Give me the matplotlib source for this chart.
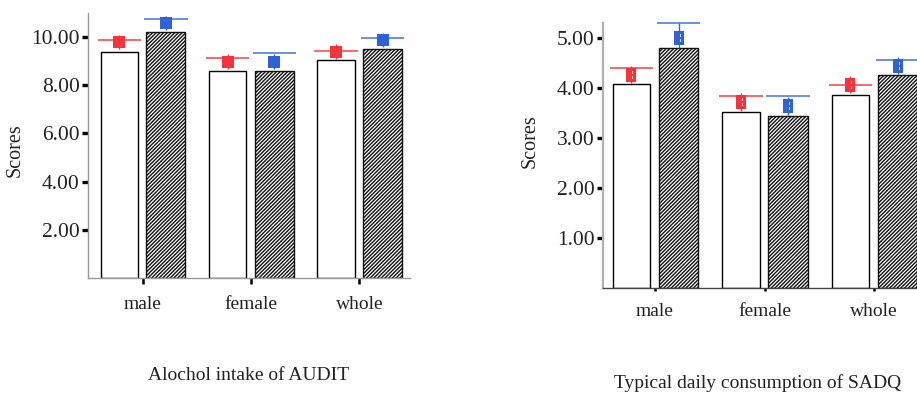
import numpy as np
import matplotlib
matplotlib.use("Agg")
import matplotlib.pyplot as plt
from matplotlib.path import Path

plt.rcParams['font.family'] = ['Liberation Serif', 'DejaVu Serif']
plt.rcParams['hatch.linewidth'] = 1.0

# ---------------- data ----------------
categories = ['male', 'female', 'whole']

audit_white = [9.40, 8.58, 9.04]
audit_hatch = [10.21, 8.58, 9.50]
audit_red = [9.79, 8.98, 9.40]
audit_blue = [10.58, 8.98, 9.87]
audit_red_line = [9.86, 9.15, 9.43]
audit_blue_line = [10.75, 9.33, 9.96]
audit_red_err = [0.3, 0.3, 0.3]
audit_blue_err = [0.3, 0.3, 0.3]
audit_ticks = [2, 4, 6, 8, 10]

sadq_white = [4.07, 3.51, 3.85]
sadq_hatch = [4.79, 3.43, 4.25]
sadq_red = [4.26, 3.71, 4.06]
sadq_blue = [4.99, 3.63, 4.44]
sadq_red_line = [4.39, 3.84, 4.06]
sadq_blue_line = [5.29, 3.84, 4.56]
sadq_red_err_lo = [0.17, 0.18, 0.17]
sadq_red_err_hi = [0.17, 0.18, 0.17]
sadq_blue_err_lo = [0.2, 0.18, 0.17]
sadq_blue_err_hi = [0.3, 0.18, 0.17]
sadq_ticks = [1, 2, 3, 4, 5]

titles = ['Alochol intake of AUDIT', 'Typical daily consumption of SADQ']
ylabel = 'Scores'

RED = '#f5333b'
BLUE = '#2f62d2'
RED_L = '#ff4a55'
BLUE_L = '#4f7ee0'

# custom marker for right chart: rectangle with two small holes
verts = [(-0.35, -0.5), (0.35, -0.5), (0.35, 0.5), (-0.35, 0.5), (-0.35, -0.5),
         (-0.02, 0.08), (-0.02, 0.26), (0.16, 0.26), (0.16, 0.08), (-0.02, 0.08),
         (-0.02, -0.26), (-0.02, -0.08), (0.16, -0.08), (0.16, -0.26), (-0.02, -0.26)]
codes = [Path.MOVETO, Path.LINETO, Path.LINETO, Path.LINETO, Path.CLOSEPOLY] * 3
rect_marker = Path(verts, codes)

W, H = 917, 393
fig = plt.figure(figsize=(W / 100, H / 100), dpi=100)

def px_axes(x0, y_top, x1, y_bot):
    return fig.add_axes([x0 / W, 1 - y_bot / H, (x1 - x0) / W, (y_bot - y_top) / H])

ax1 = px_axes(88, 13, 410, 278)
ax2 = px_axes(602.7, 23.3, 925.5, 287.5)

def draw(ax, white, hatch, red, blue, red_line, blue_line, red_err, blue_err,
         ticks, ylim, xlim, marker, ms, xtick_len, spine_cols):
    x = np.arange(len(categories))
    off = 0.215
    ax.bar(x - off, white, width=0.345, color='white', edgecolor='black', linewidth=1.0, zorder=2)
    ax.bar(x + off, hatch, width=0.36, color='white', edgecolor='#111111', linewidth=1.0,
           hatch='/////////', zorder=2)
    ax.hlines(red_line, x - off - 0.2, x - off + 0.2, color=RED_L, linewidth=1.2, zorder=3,
              clip_on=False)
    ax.hlines(blue_line, x + off - 0.2, x + off + 0.2, color=BLUE_L, linewidth=1.2, zorder=3,
              clip_on=False)
    ax.errorbar(x - off, red, yerr=red_err, fmt='none', ecolor=RED, elinewidth=1.0, zorder=4)
    ax.errorbar(x + off, blue, yerr=blue_err, fmt='none', ecolor=BLUE, elinewidth=1.0, zorder=4)
    ax.plot(x - off, red, linestyle='none', marker=marker, ms=ms, color=RED,
            markeredgewidth=0, zorder=5)
    ax.plot(x + off, blue, linestyle='none', marker=marker, ms=ms, color=BLUE,
            markeredgewidth=0, zorder=5)
    ax.set_xlim(*xlim)
    ax.set_ylim(*ylim)
    ax.set_xticks(x)
    ax.set_xticklabels(categories, fontsize=14, color='#222222')
    ax.set_yticks(ticks)
    ax.set_yticklabels(['%.2f' % t for t in ticks], fontsize=15.5, color='#222222')
    ax.tick_params(axis='y', direction='out', length=4, width=2.4, color='black', pad=2)
    ax.tick_params(axis='x', direction='out', length=xtick_len, width=1.8, color='black', pad=9)
    for s in ['top', 'right']:
        ax.spines[s].set_visible(False)
    ax.spines['left'].set_color(spine_cols[0])
    ax.spines['left'].set_linewidth(spine_cols[1])
    ax.spines['bottom'].set_color(spine_cols[2])
    ax.spines['bottom'].set_linewidth(spine_cols[3])
    ax.patch.set_alpha(0)

draw(ax1, audit_white, audit_hatch, audit_red, audit_blue, audit_red_line, audit_blue_line,
     audit_red_err, audit_blue_err, audit_ticks, (0, 11.0), (-0.505, 2.468), 's', 8.5, 4,
     ('#9a9a9a', 1.0, '#9a9a9a', 1.0))
draw(ax2, sadq_white, sadq_hatch, sadq_red, sadq_blue, sadq_red_line, sadq_blue_line,
     [sadq_red_err_lo, sadq_red_err_hi], [sadq_blue_err_lo, sadq_blue_err_hi],
     sadq_ticks, (0, 5.29), (-0.478, 2.47), rect_marker, 10, 2,
     ('#b0b0b0', 1.6, '#444444', 1.0))

fig.text(15 / W, 1 - 150 / H, ylabel, rotation=90, ha='center', va='center', fontsize=14.5,
         color='#222222')
fig.text(530 / W, 1 - 141.5 / H, ylabel, rotation=90, ha='center', va='center', fontsize=14.5,
         color='#222222')
fig.text(248.7 / W, 1 - 376 / H, titles[0], ha='center', va='center', fontsize=14,
         color='#222222')
fig.text(757.5 / W, 1 - 383 / H, titles[1], ha='center', va='center', fontsize=14,
         color='#222222')

fig.savefig('out.png', dpi=100)
